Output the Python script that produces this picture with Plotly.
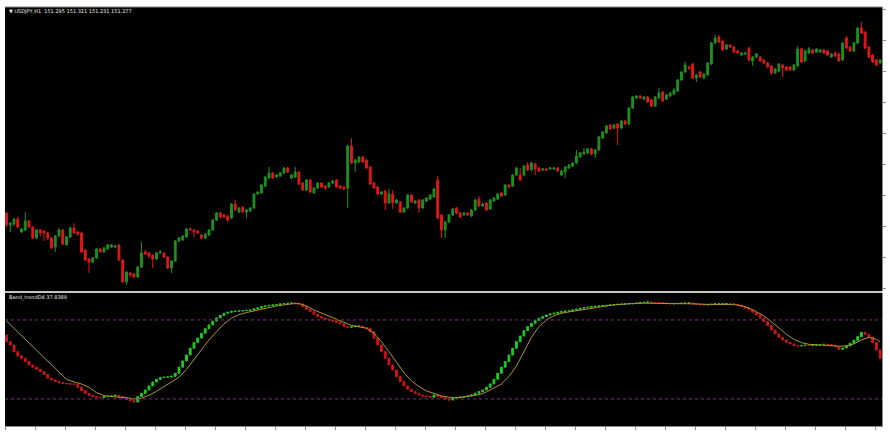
import plotly.graph_objects as go

# ---------------- main pane: USDJPY H1 candles ----------------
open_ = [149.87, 149.75, 149.76, 149.81, 149.68, 149.70, 149.79, 149.73, 149.62, 149.70,
         149.69, 149.67, 149.62, 149.53, 149.64, 149.70, 149.55, 149.63, 149.72, 149.68,
         149.67, 149.50, 149.41, 149.38, 149.42, 149.51, 149.48, 149.51, 149.53, 149.53,
         149.55, 149.40, 149.18, 149.27, 149.26, 149.23, 149.33, 149.48, 149.47, 149.45,
         149.41, 149.47, 149.47, 149.43, 149.32, 149.39, 149.59, 149.60, 149.63, 149.71,
         149.70, 149.69, 149.65, 149.62, 149.65, 149.70, 149.80, 149.87, 149.85, 149.84,
         149.82, 149.96, 149.88, 149.93, 149.88, 149.89, 149.92, 150.06, 150.07, 150.14,
         150.22, 150.27, 150.23, 150.24, 150.27, 150.32, 150.22, 150.23, 150.28, 150.17,
         150.10, 150.20, 150.07, 150.12, 150.17, 150.14, 150.13, 150.17, 150.20, 150.14,
         150.13, 150.12, 150.54, 150.37, 150.38, 150.43, 150.40, 150.33, 150.17, 150.13,
         150.06, 150.09, 149.97, 150.06, 149.97, 149.98, 149.88, 149.92, 150.05, 149.97,
         150.00, 149.92, 149.99, 150.01, 150.03, 150.20, 149.85, 149.70, 149.78, 149.85,
         149.92, 149.87, 149.85, 149.87, 149.84, 149.90, 150.01, 149.94, 149.97, 149.91,
         149.99, 150.01, 150.07, 150.05, 150.15, 150.14, 150.25, 150.25, 150.25, 150.35,
         150.30, 150.36, 150.32, 150.30, 150.31, 150.31, 150.31, 150.32, 150.25, 150.28,
         150.32, 150.34, 150.37, 150.43, 150.46, 150.47, 150.51, 150.46, 150.50, 150.62,
         150.67, 150.75, 150.72, 150.76, 150.72, 150.79, 150.76, 150.92, 151.02, 151.04,
         151.01, 151.03, 151.00, 150.94, 151.02, 151.08, 151.01, 151.04, 151.06, 151.09,
         151.20, 151.28, 151.33, 151.36, 151.22, 151.28, 151.22, 151.25, 151.36, 151.57,
         151.63, 151.59, 151.51, 151.55, 151.53, 151.49, 151.45, 151.46, 151.52, 151.39,
         151.43, 151.43, 151.40, 151.37, 151.34, 151.27, 151.29, 151.35, 151.33, 151.33,
         151.30, 151.34, 151.51, 151.39, 151.47, 151.50, 151.48, 151.48, 151.50, 151.49,
         151.43, 151.47, 151.46, 151.40, 151.62, 151.53, 151.49, 151.57, 151.72, 151.68,
         151.53, 151.45, 151.40, 151.37]

high_ = [149.88, 149.78, 149.82, 149.83, 149.72, 149.88, 149.80, 149.74, 149.71, 149.71,
         149.70, 149.68, 149.63, 149.65, 149.72, 149.71, 149.64, 149.73, 149.77, 149.69,
         149.68, 149.51, 149.42, 149.43, 149.52, 149.52, 149.53, 149.56, 149.56, 149.55,
         149.56, 149.41, 149.29, 149.28, 149.27, 149.34, 149.58, 149.50, 149.48, 149.46,
         149.48, 149.50, 149.48, 149.44, 149.40, 149.60, 149.63, 149.65, 149.72, 149.73,
         149.71, 149.70, 149.66, 149.67, 149.71, 149.81, 149.88, 149.88, 149.86, 149.85,
         149.97, 150.00, 149.93, 149.94, 149.91, 149.93, 150.07, 150.09, 150.16, 150.24,
         150.33, 150.28, 150.26, 150.28, 150.33, 150.33, 150.26, 150.33, 150.29, 150.18,
         150.21, 150.21, 150.13, 150.18, 150.18, 150.15, 150.18, 150.20, 150.21, 150.15,
         150.14, 150.55, 150.62, 150.41, 150.44, 150.44, 150.41, 150.34, 150.18, 150.14,
         150.09, 150.10, 150.11, 150.10, 150.01, 149.99, 149.93, 150.06, 150.06, 150.00,
         150.01, 150.01, 150.03, 150.06, 150.12, 150.24, 149.86, 149.79, 149.86, 149.92,
         149.93, 149.88, 149.88, 149.88, 149.91, 150.01, 150.04, 149.97, 149.98, 150.01,
         150.03, 150.07, 150.08, 150.16, 150.16, 150.26, 150.33, 150.32, 150.35, 150.38,
         150.38, 150.37, 150.33, 150.32, 150.32, 150.33, 150.33, 150.33, 150.30, 150.34,
         150.36, 150.38, 150.50, 150.48, 150.52, 150.52, 150.52, 150.51, 150.64, 150.69,
         150.75, 150.76, 150.76, 150.77, 150.80, 150.80, 150.93, 151.04, 151.05, 151.05,
         151.04, 151.04, 151.01, 151.04, 151.12, 151.09, 151.06, 151.08, 151.12, 151.21,
         151.29, 151.38, 151.34, 151.37, 151.26, 151.29, 151.27, 151.38, 151.58, 151.65,
         151.65, 151.60, 151.56, 151.56, 151.54, 151.50, 151.48, 151.48, 151.53, 151.44,
         151.47, 151.44, 151.41, 151.38, 151.35, 151.32, 151.37, 151.36, 151.34, 151.34,
         151.36, 151.54, 151.52, 151.50, 151.53, 151.51, 151.52, 151.51, 151.51, 151.50,
         151.47, 151.48, 151.47, 151.58, 151.64, 151.54, 151.58, 151.73, 151.78, 151.69,
         151.54, 151.46, 151.41, 151.41]

low_ = [149.73, 149.68, 149.74, 149.72, 149.67, 149.69, 149.72, 149.61, 149.61, 149.64,
        149.59, 149.60, 149.51, 149.48, 149.63, 149.55, 149.54, 149.62, 149.66, 149.64,
        149.47, 149.39, 149.27, 149.37, 149.41, 149.47, 149.47, 149.50, 149.52, 149.52,
        149.39, 149.17, 149.15, 149.23, 149.22, 149.22, 149.32, 149.45, 149.42, 149.32,
        149.40, 149.46, 149.42, 149.31, 149.27, 149.38, 149.58, 149.59, 149.62, 149.69,
        149.63, 149.66, 149.61, 149.61, 149.64, 149.69, 149.79, 149.82, 149.82, 149.78,
        149.81, 149.89, 149.87, 149.87, 149.82, 149.88, 149.91, 150.05, 150.06, 150.13,
        150.21, 150.21, 150.22, 150.23, 150.26, 150.27, 150.21, 150.22, 150.15, 150.09,
        150.09, 150.07, 150.06, 150.11, 150.12, 150.10, 150.12, 150.16, 150.12, 150.11,
        150.10, 149.92, 150.36, 150.28, 150.37, 150.37, 150.31, 150.15, 150.11, 150.05,
        150.05, 149.90, 149.96, 149.91, 149.96, 149.87, 149.87, 149.91, 149.97, 149.96,
        149.87, 149.91, 149.98, 150.00, 150.02, 149.81, 149.62, 149.62, 149.77, 149.84,
        149.86, 149.82, 149.84, 149.84, 149.83, 149.89, 149.93, 149.93, 149.89, 149.90,
        149.98, 150.00, 150.03, 150.04, 150.12, 150.13, 150.24, 150.19, 150.24, 150.29,
        150.29, 150.25, 150.28, 150.29, 150.29, 150.30, 150.30, 150.28, 150.24, 150.22,
        150.31, 150.33, 150.36, 150.42, 150.45, 150.46, 150.45, 150.42, 150.49, 150.61,
        150.66, 150.70, 150.71, 150.55, 150.71, 150.75, 150.75, 150.91, 151.01, 151.01,
        151.00, 150.97, 150.93, 150.93, 151.01, 150.98, 151.00, 151.03, 151.05, 151.08,
        151.19, 151.27, 151.30, 151.21, 151.18, 151.22, 151.21, 151.24, 151.35, 151.56,
        151.57, 151.49, 151.50, 151.52, 151.47, 151.46, 151.44, 151.45, 151.39, 151.34,
        151.42, 151.38, 151.36, 151.32, 151.25, 151.26, 151.28, 151.23, 151.29, 151.29,
        151.29, 151.33, 151.37, 151.38, 151.46, 151.46, 151.47, 151.47, 151.46, 151.44,
        151.42, 151.43, 151.38, 151.39, 151.51, 151.48, 151.48, 151.56, 151.66, 151.51,
        151.42, 151.37, 151.34, 151.36]

close_ = [149.75, 149.77, 149.81, 149.73, 149.71, 149.79, 149.73, 149.62, 149.70, 149.67,
          149.67, 149.62, 149.52, 149.64, 149.70, 149.56, 149.63, 149.72, 149.67, 149.66,
          149.48, 149.40, 149.38, 149.42, 149.51, 149.48, 149.52, 149.55, 149.55, 149.54,
          149.40, 149.18, 149.28, 149.25, 149.23, 149.33, 149.47, 149.46, 149.44, 149.41,
          149.47, 149.48, 149.43, 149.32, 149.39, 149.59, 149.62, 149.64, 149.71, 149.70,
          149.68, 149.67, 149.62, 149.66, 149.70, 149.80, 149.87, 149.83, 149.83, 149.80,
          149.96, 149.90, 149.92, 149.88, 149.90, 149.92, 150.06, 150.08, 150.15, 150.23,
          150.27, 150.22, 150.25, 150.27, 150.32, 150.28, 150.25, 150.28, 150.16, 150.10,
          150.20, 150.08, 150.12, 150.17, 150.13, 150.12, 150.17, 150.19, 150.13, 150.12,
          150.11, 150.54, 150.37, 150.40, 150.43, 150.38, 150.32, 150.16, 150.12, 150.06,
          150.08, 149.97, 150.06, 149.97, 150.00, 149.88, 149.92, 150.05, 149.98, 149.99,
          149.92, 150.00, 150.02, 150.05, 150.11, 149.82, 149.70, 149.78, 149.85, 149.91,
          149.87, 149.83, 149.87, 149.85, 149.90, 150.00, 149.94, 149.96, 149.90, 150.00,
          150.02, 150.06, 150.04, 150.15, 150.13, 150.25, 150.32, 150.20, 150.34, 150.30,
          150.37, 150.31, 150.29, 150.31, 150.30, 150.32, 150.32, 150.29, 150.29, 150.33,
          150.35, 150.37, 150.44, 150.47, 150.48, 150.51, 150.46, 150.50, 150.63, 150.68,
          150.74, 150.71, 150.75, 150.72, 150.79, 150.76, 150.92, 151.03, 151.04, 151.02,
          151.03, 150.98, 150.94, 151.03, 151.07, 150.99, 151.05, 151.07, 151.10, 151.20,
          151.28, 151.35, 151.32, 151.22, 151.25, 151.23, 151.26, 151.37, 151.57, 151.62,
          151.58, 151.50, 151.55, 151.53, 151.48, 151.47, 151.47, 151.47, 151.40, 151.43,
          151.46, 151.39, 151.37, 151.33, 151.27, 151.31, 151.36, 151.32, 151.30, 151.30,
          151.35, 151.51, 151.38, 151.49, 151.51, 151.47, 151.51, 151.50, 151.47, 151.45,
          151.46, 151.44, 151.39, 151.57, 151.52, 151.49, 151.57, 151.72, 151.67, 151.52,
          151.43, 151.38, 151.35, 151.40]

# ---------------- lower pane: Band_trend indicator ----------------
ind_first_open = 68.6
ind_values = [63.5, 61.0, 55.9, 52.7, 50.9, 48.4, 45.8, 44.1, 42.5, 40.8,
              38.7, 35.7, 34.4, 33.2, 32.4, 31.9, 31.6, 31.4, 31.1, 28.9,
              26.3, 24.3, 22.8, 21.8, 21.3, 21.0, 21.8, 22.0, 22.3, 22.8,
              21.8, 20.8, 19.7, 18.7, 17.7, 21.8, 24.3, 26.8, 29.9, 32.9,
              34.9, 36.2, 36.5, 36.7, 37.2, 39.5, 44.1, 48.9, 53.4, 58.5,
              62.8, 66.3, 69.9, 73.4, 76.2, 79.0, 81.5, 83.5, 85.1, 85.8,
              86.6, 86.7, 86.8, 87.1, 87.3, 87.6, 88.4, 89.1, 90.1, 90.6,
              91.1, 91.4, 91.6, 92.2, 92.4, 92.7, 92.9, 92.7, 92.2, 90.1,
              88.1, 86.3, 84.3, 82.5, 81.3, 80.5, 80.0, 79.2, 78.2, 77.0,
              74.9, 74.4, 74.9, 75.2, 75.3, 74.2, 73.7, 71.1, 66.1, 61.0,
              55.9, 50.9, 45.8, 42.0, 37.0, 33.2, 29.9, 27.3, 25.6, 24.3,
              23.0, 22.3, 21.8, 21.3, 23.0, 21.8, 21.0, 20.0, 19.2, 20.5,
              21.0, 21.5, 21.8, 22.3, 23.0, 24.3, 25.6, 26.8, 28.9, 31.4,
              34.9, 39.5, 44.1, 48.4, 53.4, 58.5, 63.5, 67.8, 71.9, 74.9,
              77.5, 79.5, 81.3, 82.5, 83.8, 84.6, 85.1, 85.8, 86.3, 86.8,
              87.1, 87.6, 88.1, 88.9, 89.4, 89.6, 90.1, 90.4, 90.6, 90.9,
              91.1, 91.4, 91.6, 91.9, 92.0, 92.2, 92.3, 92.4, 92.7, 93.2,
              93.4, 93.7, 93.4, 93.2, 93.0, 92.9, 92.4, 92.2, 92.4, 92.5,
              92.7, 92.8, 92.9, 92.2, 91.9, 91.6, 91.4, 91.6, 91.9, 92.2,
              92.3, 92.4, 92.5, 92.2, 91.9, 91.1, 90.1, 88.9, 87.6, 85.8,
              83.8, 81.3, 78.7, 75.7, 72.4, 69.4, 66.8, 64.8, 63.0, 61.8,
              60.5, 60.3, 60.5, 60.8, 60.5, 60.8, 61.0, 61.3, 61.5, 61.3,
              60.8, 59.7, 57.7, 58.7, 60.3, 62.3, 64.6, 67.3, 70.6, 69.1,
              66.8, 62.8, 57.2, 50.9]

# signal line, read at every second bar (plus the last one)
signal_values = [79.2, 73.7, 67.8, 62.3, 56.5, 51.1, 45.8, 40.3, 34.9, 32.9,
                 31.4, 28.9, 24.8, 22.5, 21.8, 21.3, 21.0, 20.0, 20.5, 22.8,
                 25.8, 29.4, 32.4, 36.5, 42.5, 50.1, 57.2, 64.8, 71.1, 77.0,
                 81.3, 84.1, 85.6, 86.8, 88.4, 89.6, 90.6, 91.4, 92.2, 92.4,
                 90.6, 87.6, 85.1, 82.8, 80.5, 78.2, 75.9, 74.9, 73.7, 69.9,
                 63.5, 55.9, 47.6, 40.0, 33.7, 29.4, 26.1, 24.1, 22.3, 21.3,
                 20.8, 21.5, 22.3, 23.3, 25.3, 28.1, 31.4, 37.0, 45.1, 55.9,
                 66.8, 74.9, 80.0, 83.3, 85.1, 86.1, 87.1, 88.1, 89.1, 90.1,
                 90.6, 91.4, 91.9, 92.4, 92.7, 92.7, 92.7, 92.4, 92.2, 92.2,
                 92.2, 92.2, 92.2, 91.9, 91.9, 91.9, 91.9, 91.6, 90.9, 89.1,
                 86.3, 83.0, 78.7, 73.7, 69.1, 65.3, 62.8, 61.5, 61.0, 60.8,
                 60.5, 60.0, 60.3, 61.8, 64.8, 66.8, 65.3, 63.3]

level_high = 80
level_low = 20
title_text = "\u25BC USDJPY,H1  151.295 151.321 151.231 151.277"
ind_text = "Band_trendD4 37.8389"

# ---------------- build ----------------
n = len(close_)
bars = list(range(n))
ind_open = [ind_first_open] + ind_values[:-1]
ind_high = [max(a, b) for a, b in zip(ind_open, ind_values)]
ind_low = [min(a, b) for a, b in zip(ind_open, ind_values)]
sig_x = list(range(0, n - 1, 2)) + [n - 1]

fig = go.Figure()
fig.add_trace(go.Candlestick(
    x=bars, open=open_, high=high_, low=low_, close=close_,
    xaxis="x", yaxis="y",
    increasing=dict(line=dict(color="#1c921c", width=1), fillcolor="#1c921c"),
    decreasing=dict(line=dict(color="#e01818", width=1), fillcolor="#e01818"),
    whiskerwidth=0, hoverinfo="skip"))
fig.add_trace(go.Candlestick(
    x=bars, open=ind_open, high=ind_high, low=ind_low, close=ind_values,
    xaxis="x", yaxis="y2",
    increasing=dict(line=dict(color="#22c822", width=1), fillcolor="#22c822"),
    decreasing=dict(line=dict(color="#d01616", width=1), fillcolor="#d01616"),
    whiskerwidth=0, hoverinfo="skip"))
fig.add_trace(go.Scatter(
    x=sig_x, y=signal_values, mode="lines", xaxis="x", yaxis="y2",
    line=dict(color="#ab972e", width=1), hoverinfo="skip"))

W, H, L, R, T, B = 890, 433, 5, 8, 7, 7
ph = H - T - B
ind_top = 133 / ph
main_bot = 135 / ph

axis_common = dict(showgrid=False, zeroline=False, showticklabels=False,
                   ticks="outside", ticklen=3, tickcolor="#8a8a8a",
                   showline=True, linecolor="#8a8a8a", linewidth=1)

fig.update_layout(
    width=W, height=H,
    margin=dict(l=L, r=R, t=T, b=B),
    paper_bgcolor="white", plot_bgcolor="black",
    showlegend=False,
    boxgap=0.3,
    xaxis=dict(domain=[0, 1], anchor="y2", range=[-0.4, 233.5],
               rangeslider=dict(visible=False), tick0=7.7, dtick=8,
               **axis_common),
    yaxis=dict(domain=[main_bot, 1], anchor="x", side="right",
               range=[149.09, 151.93], tick0=151.60, dtick=0.31, **axis_common),
    yaxis2=dict(domain=[0, ind_top], anchor="x", side="right",
                range=[-0.53, 100.46], showgrid=False, zeroline=False,
                showticklabels=False, ticks="", showline=True,
                linecolor="#8a8a8a", linewidth=1),
    shapes=[
        dict(type="line", xref="paper", x0=0, x1=1, yref="y2", y0=level_high, y1=level_high,
             line=dict(color="#7d2f86", width=1, dash="dot")),
        dict(type="line", xref="paper", x0=0, x1=1, yref="y2", y0=level_low, y1=level_low,
             line=dict(color="#7d2f86", width=1, dash="dot")),
        dict(type="rect", xref="paper", x0=0, x1=1, yref="paper", y0=ind_top, y1=main_bot,
             fillcolor="#c4c4c4", line=dict(width=0), layer="above"),
        dict(type="line", xref="paper", x0=0, x1=1, yref="paper", y0=1, y1=1,
             line=dict(color="#8a8a8a", width=1)),
    ],
    annotations=[
        dict(text=title_text, xref="paper", yref="paper", x=2 / 877, y=1 - 3.5 / ph,
             xanchor="left", yanchor="middle", showarrow=False,
             font=dict(family="DejaVu Sans", size=5, color="#e8e8e8")),
        dict(text=ind_text, xref="paper", yref="paper", x=2 / 877, y=ind_top - 4 / ph,
             xanchor="left", yanchor="middle", showarrow=False,
             font=dict(family="DejaVu Sans", size=5, color="#e8e8e8")),
    ],
)

fig.write_html("out.html", config={"displayModeBar": False},
               post_script="document.body.style.margin='0';document.body.style.overflow='hidden';")
